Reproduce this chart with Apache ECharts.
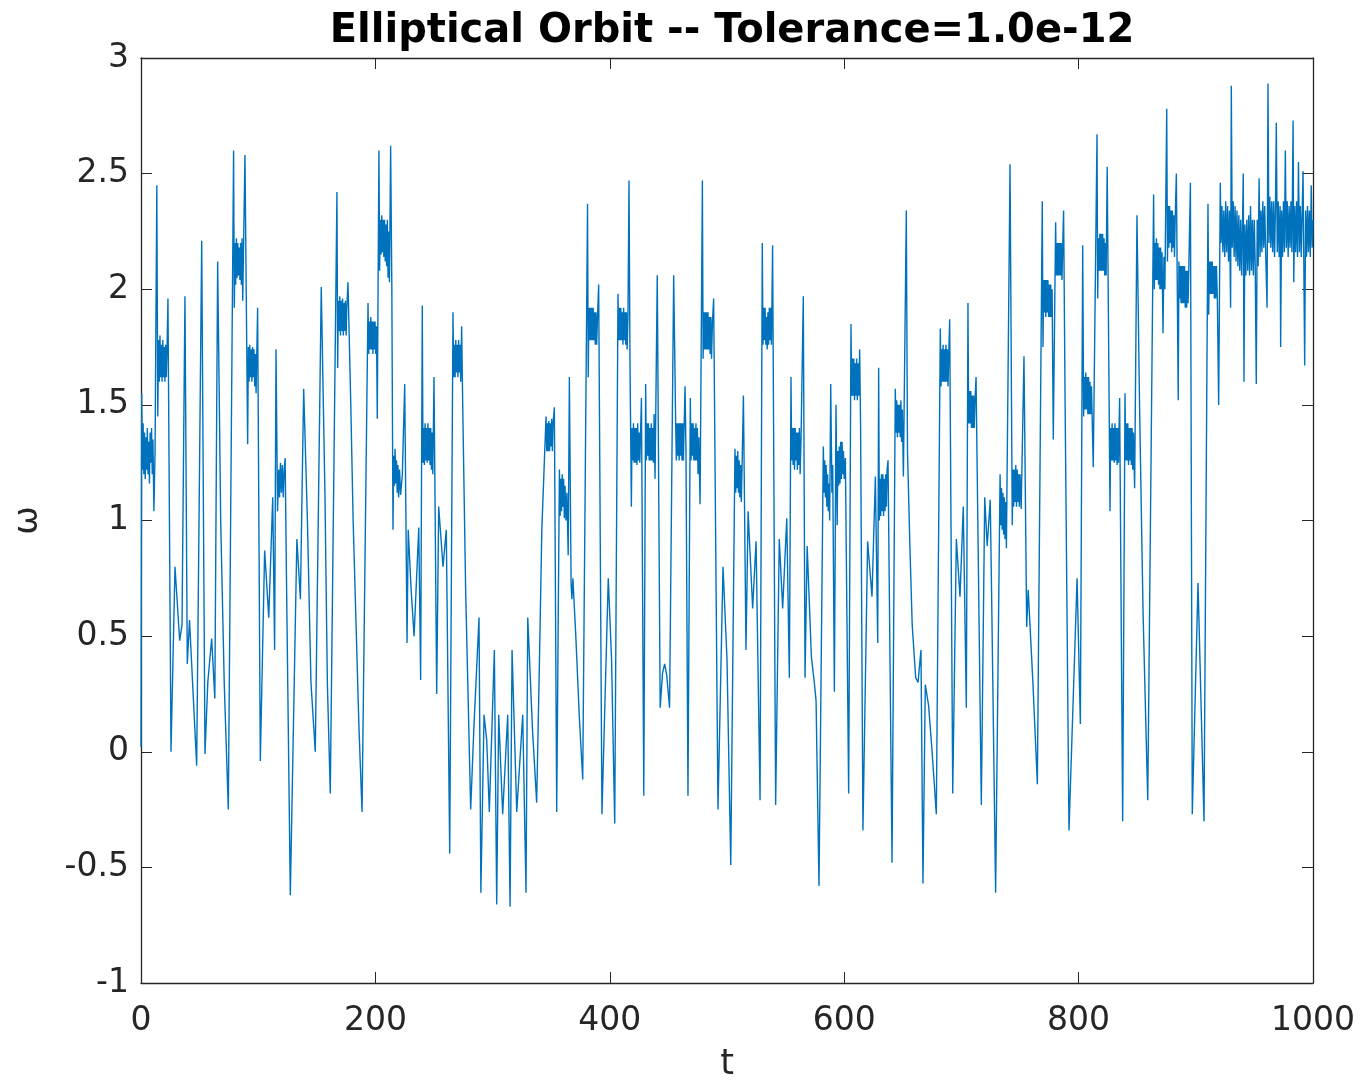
<!DOCTYPE html>
<html>
<head>
<meta charset="utf-8">
<title>Elliptical Orbit</title>
<script src="https://cdn.jsdelivr.net/npm/echarts@6/dist/echarts.min.js"></script>
<style>
  html, body { margin: 0; padding: 0; background: #fff; }
  #chart { width: 1367px; height: 1085px; }
</style>
</head>
<body>
<div id="chart"></div>
<script>
  // omega(t), one array per 100 time units, pairs of [t, omega]
  const seg0 = [[0,0.02],[0.6,1.55],[1.2,1.22],[1.8,1.42],[2.4,1.2],[3,1.38],[3.6,1.18],[4.2,1.36],[4.8,1.22],[5.4,1.4],[6,1.2],[6.6,1.34],[7.2,1.16],[7.8,1.38],[8.4,1.25],[9,1.4],[9.6,1.2],[10.2,1.35],[11,1.04],[12,1.3],
    [13.5,2.45],[14.3,1.45],[15,1.78],[15.6,1.6],[16.2,1.8],[16.8,1.62],[17.4,1.76],[18,1.6],[18.6,1.78],[19.2,1.62],[19.8,1.75],[20.4,1.6],[21,1.76],[21.6,1.62],[22.2,1.74],[23,1.96],[23.6,1.5],
    [25.6,0.0],[29,0.8],[33,0.48],[35,0.55],[37.5,1.97],[39.5,0.38],[41.4,0.57],[44,0.3],[47.5,-0.06],[51.8,2.21],[54.6,-0.01],[57,0.3],[60.3,0.49],[63,0.23],[65.4,2.12],[68,1.0],[71,0.3],[74.5,-0.25],
    [79,2.6],[79.6,1.92],[80.2,2.2],[80.8,2.02],[81.4,2.22],[82,2.05],[82.6,2.2],[83.2,2.06],[83.8,2.18],[84.4,2.04],[85,2.2],[85.6,2.02],[86.2,2.22],[86.8,1.95],[87.4,2.15],[88.7,2.58],
    [91,1.33],[91.6,1.75],[92.2,1.6],[92.8,1.76],[93.4,1.62],[94,1.74],[94.6,1.6],[95.2,1.75],[95.8,1.62],[96.4,1.74],[97,1.58],[97.6,1.72],[98.2,1.55],[99.5,1.92]];

  const seg1 = [[101.8,-0.04],[105.5,0.87],[109,0.58],[112.4,1.1],[114,0.44],[115.2,1.74],[116.5,1.04],[117.5,1.22],[118.2,1.1],[119,1.25],[119.8,1.12],[120.6,1.24],[121.4,1.1],[122.2,1.22],[123,1.27],[124,0.8],
    [127.4,-0.62],[133,0.92],[136,0.66],[138.8,1.57],[142,1.0],[145,0.3],[148.7,0.0],[153.8,2.01],[157,1.1],[159,0.3],[161.5,-0.18],
    [167.2,2.42],[167.8,1.66],[168.4,1.95],[169,1.82],[169.6,1.97],[170.2,1.8],[170.8,1.95],[171.4,1.82],[172,1.96],[172.6,1.8],[173.2,1.94],[173.8,1.82],[174.4,1.95],[175,1.8],[175.6,1.92],[176.6,2.03],
    [179,1.5],[181,1.0],[183.5,0.55],[186,0.1],[188.6,-0.26],
    [193.7,1.94],[194.3,1.72],[194.9,1.86],[195.5,1.74],[196.1,1.88],[196.7,1.74],[197.3,1.86],[197.9,1.72],[198.5,1.86],[199.1,1.74],[199.7,1.86]];

  const seg2 = [[200.3,1.72],[200.9,1.84],[201.6,1.44],[203,2.6],[203.6,2.08],[204.2,2.3],[204.8,2.15],[205.4,2.32],[206,2.16],[206.6,2.3],[207.2,2.14],[207.8,2.3],[208.4,2.12],[209,2.28],[209.6,2.1],[210.2,2.3],[210.8,2.05],[211.4,2.25],[212,2.03],[213,2.62],[214,2.02],
    [215,0.96],[215.6,1.28],[216.2,1.15],[216.8,1.31],[217.4,1.16],[218,1.26],[218.6,1.12],[219.2,1.24],[219.8,1.1],[220.6,1.22],[221.5,1.11],[223,1.2],[225,1.59],[227,0.47],[228,0.96],[230.5,0.7],[233,0.5],[237,0.97],[238.6,0.31],
    [240,1.93],[240.6,1.25],[241.2,1.4],[241.8,1.24],[242.4,1.42],[243,1.26],[243.6,1.4],[244.2,1.25],[244.8,1.42],[245.4,1.26],[246,1.4],[246.6,1.24],[247.2,1.4],[247.8,1.22],[248.4,1.38],[249,1.2],[250,1.62],
    [252.3,0.25],[254,1.06],[257.7,0.8],[260.5,0.96],[263.4,-0.44],
    [266.2,1.9],[266.8,1.62],[267.4,1.76],[268,1.62],[268.6,1.78],[269.2,1.64],[269.8,1.76],[270.4,1.62],[271,1.78],[271.6,1.64],[272.2,1.76],[272.8,1.6],[273.6,1.84],[274.5,1.5],
    [277,0.7],[281.3,-0.25],[284,0.1],[288.4,0.58],[290,-0.61],[292.7,0.16],[295,0.05],[297.2,-0.26]];

  const seg3 = [[301.5,0.44],[303.5,-0.66],[305.2,0.16],[308.6,-0.27],[312.9,0.16],[314.9,-0.67],[316.6,0.44],[320.6,-0.26],[325.7,0.16],[328.5,-0.61],[330,0.58],[334,0.1],[337.6,-0.22],[340,0.4],[342,0.96],[343.9,1.22],
    [345.6,1.45],[346.2,1.3],[346.8,1.42],[347.4,1.3],[348,1.43],[348.6,1.3],[349.2,1.42],[349.8,1.32],[350.4,1.44],[351,1.3],[351.6,1.42],[352.7,1.49],[354.7,-0.26],
    [357,1.22],[357.6,1.02],[358.2,1.18],[358.8,1.04],[359.4,1.2],[360,1.06],[360.6,1.18],[361.2,1.01],[361.8,1.15],[362.6,1.0],[363.4,1.12],[364.5,0.85],[365.5,1.62],[367,0.72],[367.7,0.66],[368.5,0.75],[371,0.5],[374,0.15],[376.9,-0.12],
    [381,2.37],[381.6,1.62],[382.2,1.92],[382.8,1.78],[383.4,1.92],[384,1.78],[384.6,1.92],[385.2,1.78],[385.8,1.92],[386.4,1.78],[387,1.9],[387.6,1.76],[388.2,1.9],[388.8,1.76],[389.5,1.88],[390.5,2.02],[393.3,-0.27],[398.7,0.75]];

  const seg4 = [[401.5,0.4],[404.2,-0.31],[407,1.98],[407.6,1.78],[408.2,1.92],[408.8,1.78],[409.4,1.92],[410,1.78],[410.6,1.9],[411.2,1.76],[411.8,1.92],[412.4,1.78],[413,1.9],[413.6,1.76],[414.2,1.9],[414.8,1.74],[415.5,1.88],[416.4,2.47],[417.2,1.7],
    [418.4,1.06],[419,1.4],[419.6,1.26],[420.2,1.42],[420.8,1.25],[421.4,1.4],[422,1.25],[422.6,1.4],[423.2,1.24],[423.8,1.42],[424.4,1.26],[425,1.38],[425.6,1.25],[427,1.53],[429,-0.19],
    [430.6,1.59],[431.2,1.26],[431.8,1.42],[432.4,1.28],[433,1.42],[433.6,1.26],[434.2,1.4],[434.8,1.26],[435.4,1.42],[436,1.26],[436.6,1.4],[437.2,1.25],[437.8,1.46],[438.6,1.18],[440.5,2.06],
    [443,0.19],[445,0.34],[446.8,0.38],[448.6,0.33],[451,0.19],[454.5,2.06],
    [456.2,1.42],[456.8,1.26],[457.4,1.42],[458,1.28],[458.6,1.42],[459.2,1.26],[459.8,1.42],[460.4,1.28],[461,1.42],[461.6,1.26],[462.2,1.42],[462.8,1.26],[463.4,1.4],[464.2,1.58],[465,1.3],[466.7,-0.19],
    [468.7,1.53],[469.3,1.26],[469.9,1.42],[470.5,1.28],[471.1,1.42],[471.7,1.26],[472.3,1.4],[472.9,1.26],[473.5,1.42],[474.1,1.26],[474.7,1.4],[475.3,1.2],[476,1.36],[477,1.07],
    [479,2.47],[479.6,1.7],[480.2,1.9],[480.8,1.74],[481.4,1.9],[482,1.74],[482.6,1.9],[483.2,1.74],[483.8,1.9],[484.4,1.74],[485,1.88],[485.6,1.72],[486.2,1.88],[486.8,1.7],[487.6,1.86],[488.6,1.96],[492.3,-0.25],[496.6,0.8]];

  const seg5 = [[500,0.4],[503.2,-0.49],[506.8,1.31],[507.4,1.12],[508,1.28],[508.6,1.14],[509.2,1.3],[509.8,1.12],[510.4,1.26],[511,1.1],[511.6,1.24],[512.2,1.08],[512.8,1.22],[514,1.54],[516.2,0.44],[518,1.04],[521.9,0.62],[524.8,0.91],[528.2,-0.21],
    [530.1,2.2],[530.7,1.76],[531.3,1.92],[531.9,1.78],[532.5,1.92],[533.1,1.76],[533.7,1.88],[534.3,1.74],[534.9,1.9],[535.5,1.76],[536.1,1.92],[536.7,1.78],[537.3,1.92],[537.9,1.76],[538.9,2.19],[541.5,-0.23],
    [544.6,0.92],[547.5,0.62],[551,1.01],[553.2,0.32],[554.6,1.62],[555.2,1.26],[555.8,1.4],[556.4,1.24],[557,1.4],[557.6,1.22],[558.2,1.4],[558.8,1.26],[559.4,1.38],[560,1.22],[560.6,1.38],[561.2,1.24],[561.8,1.4],[562.4,1.2],[563.2,1.36],[565.1,1.97],
    [566.6,0.32],[568.4,0.89],[572,0.41],[574.5,0.3],[576,0.22],[578.5,-0.58],
    [582.2,1.32],[582.8,1.12],[583.4,1.26],[584,1.1],[584.6,1.24],[585.2,1.06],[585.8,1.2],[586.4,1.04],[587,1.16],[587.6,1.0],[588.5,1.59],[589.5,1.12],[590.2,1.24],[591.6,0.26],[593,1.5],[594,0.98],
    [594.6,1.3],[595.2,1.15],[595.8,1.32],[596.4,1.16],[597,1.34],[597.6,1.18],[598.2,1.34],[598.8,1.2],[599.4,1.3]];

  const seg6 = [[600,1.18],[601,1.27],[603.8,-0.18],[605.8,1.85],[606.4,1.54],[607,1.7],[607.6,1.54],[608.2,1.7],[608.8,1.52],[609.4,1.68],[610,1.54],[610.6,1.7],[611.2,1.52],[611.8,1.68],[612.4,1.54],[613.2,1.74],[614,1.4],[616,-0.34],
    [620,0.91],[623.7,0.67],[626.6,1.19],[628.6,0.47],[629.4,1.66],[630,1.0],[630.6,1.18],[631.2,1.02],[631.8,1.2],[632.4,1.04],[633,1.2],[633.6,1.02],[634.2,1.18],[634.8,1.04],[635.4,1.2],[636,1.06],[636.6,1.22],[637.4,1.26],[640.8,-0.48],
    [643.6,1.57],[644.2,1.38],[644.8,1.52],[645.4,1.36],[646,1.5],[646.6,1.38],[647.2,1.5],[647.8,1.36],[648.4,1.52],[649,1.34],[649.6,1.48],[650.5,1.19],[653,2.34],
    [654,1.3],[656,0.9],[658,0.55],[661,0.32],[663,0.3],[665.5,0.44],[667.2,-0.57],[669.2,0.29],[672,0.2],[675,0.0],[678.6,-0.27],
    [682,1.83],[682.6,1.58],[683.2,1.74],[683.8,1.6],[684.4,1.76],[685,1.6],[685.6,1.74],[686.2,1.6],[686.8,1.76],[687.4,1.6],[688,1.74],[688.6,1.58],[689.2,1.72],[690,1.87],[692.6,-0.18],[695.7,0.92],[698.8,0.67]];

  const seg7 = [[701.6,1.06],[704.2,0.19],[705.6,1.94],[706.2,1.42],[706.8,1.56],[707.4,1.42],[708,1.56],[708.6,1.4],[709.2,1.54],[709.8,1.4],[710.4,1.54],[711,1.4],[711.6,1.52],[712.5,1.62],[714,1.0],[717,-0.23],
    [719.9,1.1],[722,0.89],[724.6,1.09],[726,0.6],[729.2,-0.61],[733,1.2],[733.6,0.98],[734.2,1.14],[734.8,0.96],[735.4,1.12],[736,0.94],[736.6,1.1],[737.2,0.92],[737.8,1.08],[738.4,0.88],[741.5,2.54],
    [743.4,0.98],[744,1.22],[744.6,1.06],[745.2,1.22],[745.8,1.08],[746.4,1.24],[747,1.06],[747.6,1.22],[748.2,1.08],[748.8,1.2],[749.4,1.06],[750,1.2],[751,1.05],[753.4,1.71],[755.7,0.54],[757,0.7],[761,0.3],[764.8,-0.14],
    [769,2.38],[769.6,1.75],[770.2,2.04],[770.8,1.9],[771.4,2.04],[772,1.88],[772.6,2.04],[773.2,1.9],[773.8,2.04],[774.4,1.88],[775,2.02],[775.6,1.88],[776.2,2.02],[776.8,1.88],[777.4,2.0],[778.4,1.35],
    [780.4,2.29],[781,2.06],[781.6,2.2],[782.2,2.06],[782.8,2.2],[783.4,2.06],[784,2.2],[784.6,2.06],[785.2,2.2],[785.8,2.04],[786.4,2.18],[787.2,2.34],[788.5,1.5],[791.8,-0.34],[798.7,0.75]];

  const seg8 = [[801.5,0.12],[803.5,2.19],[804.3,1.45],[804.9,1.62],[805.5,1.48],[806.1,1.64],[806.7,1.48],[807.3,1.62],[807.9,1.46],[808.5,1.62],[809.1,1.46],[809.7,1.6],[810.3,1.46],[811,1.58],[812.5,1.23],
    [815.7,2.67],[816.3,1.96],[816.9,2.22],[817.5,2.08],[818.1,2.24],[818.7,2.08],[819.3,2.24],[819.9,2.08],[820.5,2.24],[821.1,2.08],[821.7,2.22],[822.3,2.06],[822.9,2.2],[823.5,2.06],[824.4,2.53],
    [826.8,1.04],[827.4,1.4],[828,1.26],[828.6,1.42],[829.2,1.26],[829.8,1.4],[830.4,1.25],[831,1.42],[831.6,1.26],[832.2,1.4],[832.8,1.24],[833.4,1.4],[834,1.25],[835,1.53],[837.6,-0.3],
    [839.6,1.55],[840.2,1.26],[840.8,1.42],[841.4,1.26],[842,1.42],[842.6,1.24],[843.2,1.4],[843.8,1.26],[844.4,1.4],[845,1.24],[845.6,1.4],[846.2,1.22],[846.8,1.38],[847.8,1.14],[849.8,2.32],
    [852,1.5],[855,0.6],[859,-0.21],
    [864,2.41],[864.6,2.0],[865.2,2.2],[865.8,2.04],[866.4,2.22],[867,2.04],[867.6,2.2],[868.2,2.02],[868.8,2.18],[869.4,2.0],[870,2.18],[870.6,2.0],[871.2,2.16],[872,1.81],[872.8,2.14],[873.6,2.0],
    [875.2,2.78],[875.8,2.12],[876.4,2.36],[877,2.18],[877.6,2.36],[878.2,2.2],[878.8,2.34],[879.4,2.16],[880,2.34],[880.6,2.18],[881.2,2.32],[881.8,2.14],[882.4,2.3],[883.4,2.5],[885,1.52],
    [885.6,2.12],[886.2,1.96],[886.8,2.1],[887.4,1.94],[888,2.1],[888.6,1.94],[889.2,2.1],[889.8,1.94],[890.4,2.1],[891,1.92],[891.6,2.08],[892.2,1.92],[892.8,2.08],[893.4,1.94],[894,2.08],[895.4,2.46],[897,-0.27]];

  const seg9 = [[901.9,0.73],[907,-0.3],[910.4,2.37],[911,1.89],[911.6,2.12],[912.2,1.98],[912.8,2.12],[913.4,1.98],[914,2.12],[914.6,1.98],[915.2,2.1],[915.8,1.96],[916.4,2.1],[917,1.96],[917.6,2.1],[918.4,1.96],[919.5,1.5],[920.9,2.46],
    [921.5,2.2],[922.3,2.36],[923.1,2.16],[923.9,2.34],[924.7,2.14],[925.5,2.38],[926.3,2.16],[927.1,2.36],[927.9,2.12],[928.7,2.34],[929.7,1.92],[930.3,2.88],[931.1,2.18],[931.9,2.38],[932.7,2.14],[933.5,2.36],[934.3,2.12],[935.1,2.34],
    [935.9,2.1],[936.7,2.32],[937.5,2.08],[938.3,2.3],[939.1,2.06],[939.9,2.3],[940.5,2.5],[941.1,1.6],[941.9,2.28],[942.7,2.06],[943.5,2.3],[944.3,2.08],[945.1,2.32],[945.9,2.06],[946.7,2.36],[947.5,2.08],[948.3,2.3],[949.1,2.06],[949.9,2.3],[950.7,2.1],
    [951.6,1.59],[952.4,2.3],[953.2,2.1],[954,2.48],[954.8,2.14],[955.6,2.34],[956.4,2.16],[957.2,2.38],[958,2.18],[958.8,2.36],[959.6,2.16],[960.8,1.92],[961.6,2.89],[962.4,2.2],[963.2,2.4],[964,2.18],[964.8,2.38],[965.6,2.16],[966.4,2.38],[967.2,2.14],[968,2.36],
    [968.7,2.72],[969.5,2.16],[970.3,2.38],[971.1,2.14],[971.9,2.36],[972.4,1.75],[973.2,2.34],[974,2.14],[974.8,2.38],[975.6,2.16],[976.4,2.6],[977.2,2.18],[978,2.38],[978.8,2.14],[979.6,2.36],[980.4,2.18],[981.2,2.38],[982,2.16],
    [983,2.73],[983.6,2.03],[984.4,2.36],[985.2,2.16],[986,2.38],[986.8,2.14],[987.6,2.55],[988.4,2.16],[989.2,2.36],[990,2.14],[990.8,2.34],[991.5,2.51],[992.9,1.67],[993.7,2.34],[994.5,2.14],[995.3,2.36],[996.1,2.16],[996.9,2.34],[997.7,2.14],[998.5,2.45],[999.3,2.18],[1000,2.3]];

  const omega = [].concat(seg0, seg1, seg2, seg3, seg4, seg5, seg6, seg7, seg8, seg9);

  const titleText = 'Elliptical Orbit -- Tolerance=1.0e-12';
  const xName = 't';
  const yName = 'ω';

  const chart = echarts.init(document.getElementById('chart'));
  const axisColor = '#262626';
  const font = 'DejaVu Sans, sans-serif';

  chart.setOption({
    animation: false,
    backgroundColor: '#ffffff',
    title: {
      text: titleText,
      left: 727,
      textAlign: 'center',
      top: 7,
      textStyle: { fontFamily: font, fontWeight: 'bold', fontSize: 40, color: '#000' }
    },
    grid: { left: 141, right: 54, top: 58, bottom: 102, containLabel: false, outerBoundsMode: 'none' },
    xAxis: [{
      type: 'value', min: 0, max: 1000, interval: 200,
      name: xName, nameLocation: 'middle', nameGap: 64,
      nameTextStyle: { fontFamily: font, fontSize: 35, color: axisColor },
      axisLine: { onZero: false, lineStyle: { color: axisColor, width: 1.3 } },
      axisTick: { inside: true, length: 11, lineStyle: { color: axisColor } },
      axisLabel: { fontFamily: font, fontSize: 33, color: axisColor, margin: 22, formatter: v => String(v) },
      splitLine: { show: false }
    }, {
      type: 'value', min: 0, max: 1000, interval: 200, position: 'top',
      axisLine: { onZero: false, lineStyle: { color: axisColor, width: 1.3 } },
      axisTick: { inside: true, length: 11, lineStyle: { color: axisColor } },
      axisLabel: { show: false }, splitLine: { show: false }
    }],
    yAxis: [{
      type: 'value', min: -1, max: 3, interval: 0.5,
      name: yName, nameLocation: 'middle', nameGap: 96, nameRotate: 90,
      nameTextStyle: { fontFamily: font, fontSize: 34, color: axisColor },
      axisLine: { show: true, onZero: false, lineStyle: { color: axisColor, width: 1.3 } },
      axisTick: { show: true, inside: true, length: 11, lineStyle: { color: axisColor } },
      axisLabel: { fontFamily: font, fontSize: 33, color: axisColor, margin: 12 },
      splitLine: { show: false }
    }, {
      type: 'value', min: -1, max: 3, interval: 0.5, position: 'right',
      axisLine: { show: true, onZero: false, lineStyle: { color: axisColor, width: 1.3 } },
      axisTick: { show: true, inside: true, length: 11, lineStyle: { color: axisColor } },
      axisLabel: { show: false }, splitLine: { show: false }
    }],
    series: [{
      name: 'omega',
      type: 'line',
      data: omega,
      showSymbol: false,
      lineStyle: { color: '#0072BD', width: 1.4 },
      clip: true
    }]
  });
</script>
</body>
</html>
